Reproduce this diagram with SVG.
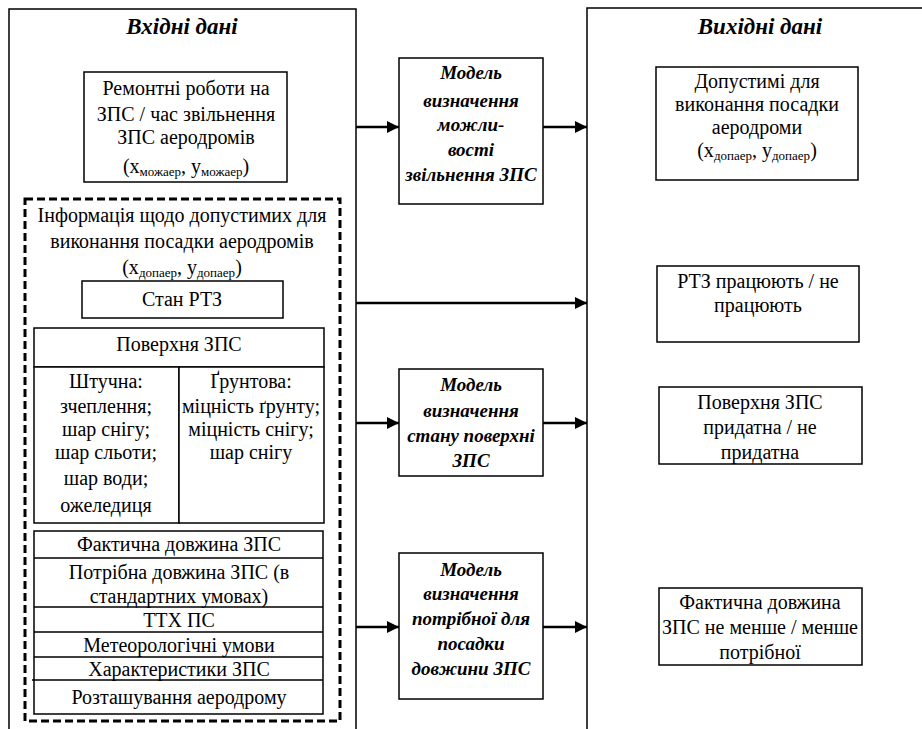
<svg xmlns="http://www.w3.org/2000/svg" width="922" height="729" viewBox="0 0 922 729">
  <style>
    .frame { fill: none; stroke: #000; stroke-width: 1.5; }
    .box { fill: #fff; stroke: #000; stroke-width: 1.5; }
    .dash { fill: none; stroke: #000; stroke-width: 3; stroke-dasharray: 8 4; }
    .arrow { fill: none; stroke: #000; stroke-width: 2.5; marker-end: url(#head); }
  </style>
  <defs>
    <marker id="head" viewBox="0 0 12 12" refX="12" refY="6" markerWidth="12" markerHeight="12" markerUnits="userSpaceOnUse" orient="auto">
      <path d="M0,0 L12,6 L0,12 Z" fill="#000"/>
    </marker>
  </defs>
  <rect width="922" height="729" fill="#fff"/>

  <!-- input frame -->
  <g id="inputs">
    <path class="frame" d="M9,729 V9 H356 V729"/>
    <text font-family="Liberation Serif, serif" font-size="23" font-weight="bold" font-style="italic" text-anchor="middle" x="182" y="34">Вхідні дані</text>
  </g>

  <!-- output frame -->
  <g id="outputs">
    <path class="frame" d="M587,729 V8 H922"/>
    <text font-family="Liberation Serif, serif" font-size="23" font-weight="bold" font-style="italic" text-anchor="middle" x="760" y="34">Вихідні дані</text>
  </g>

  <g id="repair-works">
    <rect class="box" x="84" y="72" width="203" height="110"/>
    <text font-family="Liberation Serif, serif" font-size="20" text-anchor="middle" x="186" y="95">Ремонтні роботи на</text>
    <text font-family="Liberation Serif, serif" font-size="20" text-anchor="middle" x="186" y="121">ЗПС / час звільнення</text>
    <text font-family="Liberation Serif, serif" font-size="20" text-anchor="middle" x="186" y="144">ЗПС аеродромів</text>
    <text font-family="Liberation Serif, serif" font-size="20" text-anchor="middle" x="186" y="173">(x<tspan font-size="13" dy="3">можаер</tspan><tspan dy="-3">, y</tspan><tspan font-size="13" dy="3">можаер</tspan><tspan dy="-3">)</tspan></text>
  </g>

  <g id="landing-info">
    <rect class="dash" x="25" y="199" width="315" height="522"/>
    <text font-family="Liberation Serif, serif" font-size="20" text-anchor="middle" x="182" y="222">Інформація щодо допустимих для</text>
    <text font-family="Liberation Serif, serif" font-size="20" text-anchor="middle" x="182" y="248">виконання посадки аеродромів</text>
    <text font-family="Liberation Serif, serif" font-size="20" text-anchor="middle" x="182" y="274">(x<tspan font-size="13" dy="3">допаер</tspan><tspan dy="-3">, y</tspan><tspan font-size="13" dy="3">допаер</tspan><tspan dy="-3">)</tspan></text>
  </g>

  <g id="rtz-state">
    <rect class="box" x="82" y="281" width="201" height="37"/>
    <text font-family="Liberation Serif, serif" font-size="20" text-anchor="middle" x="182" y="306">Стан РТЗ</text>
  </g>

  <g id="surface">
    <rect class="box" x="34" y="328" width="290" height="39"/>
    <text font-family="Liberation Serif, serif" font-size="20" text-anchor="middle" x="179" y="351">Поверхня ЗПС</text>
    <rect class="box" x="34" y="367" width="145" height="156"/>
    <rect class="box" x="179" y="367" width="145" height="156"/>
    <text font-family="Liberation Serif, serif" font-size="20" text-anchor="middle" x="106" y="388">Штучна:</text>
    <text font-family="Liberation Serif, serif" font-size="20" text-anchor="middle" x="106" y="413">зчеплення;</text>
    <text font-family="Liberation Serif, serif" font-size="20" text-anchor="middle" x="106" y="436">шар снігу;</text>
    <text font-family="Liberation Serif, serif" font-size="20" text-anchor="middle" x="106" y="459">шар сльоти;</text>
    <text font-family="Liberation Serif, serif" font-size="20" text-anchor="middle" x="106" y="485">шар води;</text>
    <text font-family="Liberation Serif, serif" font-size="20" text-anchor="middle" x="106" y="512">ожеледиця</text>
    <text font-family="Liberation Serif, serif" font-size="20" text-anchor="middle" x="251" y="388">Ґрунтова:</text>
    <text font-family="Liberation Serif, serif" font-size="20" text-anchor="middle" x="251" y="413">міцність ґрунту;</text>
    <text font-family="Liberation Serif, serif" font-size="20" text-anchor="middle" x="251" y="436">міцність снігу;</text>
    <text font-family="Liberation Serif, serif" font-size="20" text-anchor="middle" x="251" y="459">шар снігу</text>
  </g>

  <g id="length-data">
    <rect class="box" x="34" y="531" width="289" height="183"/>
    <path class="frame" d="M34,558 H323 M34,607 H323 M34,632 H323 M34,657 H323 M32,680 H323"/>
    <text font-family="Liberation Serif, serif" font-size="20" text-anchor="middle" x="179" y="551">Фактична довжина ЗПС</text>
    <text font-family="Liberation Serif, serif" font-size="20" text-anchor="middle" x="179" y="579">Потрібна довжина ЗПС (в</text>
    <text font-family="Liberation Serif, serif" font-size="20" text-anchor="middle" x="179" y="603">стандартних умовах)</text>
    <text font-family="Liberation Serif, serif" font-size="20" text-anchor="middle" x="179" y="627">ТТХ ПС</text>
    <text font-family="Liberation Serif, serif" font-size="20" text-anchor="middle" x="179" y="652">Метеорологічні умови</text>
    <text font-family="Liberation Serif, serif" font-size="20" text-anchor="middle" x="179" y="676">Характеристики ЗПС</text>
    <text font-family="Liberation Serif, serif" font-size="20" text-anchor="middle" x="179" y="704">Розташування аеродрому</text>
  </g>

  <g id="model-release">
    <rect class="box" x="399" y="58" width="144" height="146"/>
    <text font-family="Liberation Serif, serif" font-size="19" font-weight="bold" font-style="italic" text-anchor="middle" x="471" y="79">Модель</text>
    <text font-family="Liberation Serif, serif" font-size="19" font-weight="bold" font-style="italic" text-anchor="middle" x="471" y="107">визначення</text>
    <text font-family="Liberation Serif, serif" font-size="19" font-weight="bold" font-style="italic" text-anchor="middle" x="471" y="131">можли-</text>
    <text font-family="Liberation Serif, serif" font-size="19" font-weight="bold" font-style="italic" text-anchor="middle" x="471" y="156">вості</text>
    <text font-family="Liberation Serif, serif" font-size="19" font-weight="bold" font-style="italic" text-anchor="middle" x="471" y="181">звільнення ЗПС</text>
  </g>

  <g id="model-surface">
    <rect class="box" x="399" y="369" width="144" height="107"/>
    <text font-family="Liberation Serif, serif" font-size="19" font-weight="bold" font-style="italic" text-anchor="middle" x="471" y="391">Модель</text>
    <text font-family="Liberation Serif, serif" font-size="19" font-weight="bold" font-style="italic" text-anchor="middle" x="471" y="417">визначення</text>
    <text font-family="Liberation Serif, serif" font-size="19" font-weight="bold" font-style="italic" text-anchor="middle" x="471" y="442">стану поверхні</text>
    <text font-family="Liberation Serif, serif" font-size="19" font-weight="bold" font-style="italic" text-anchor="middle" x="471" y="467">ЗПС</text>
  </g>

  <g id="model-length">
    <rect class="box" x="399" y="553" width="144" height="146"/>
    <text font-family="Liberation Serif, serif" font-size="19" font-weight="bold" font-style="italic" text-anchor="middle" x="471" y="576">Модель</text>
    <text font-family="Liberation Serif, serif" font-size="19" font-weight="bold" font-style="italic" text-anchor="middle" x="471" y="600">визначення</text>
    <text font-family="Liberation Serif, serif" font-size="19" font-weight="bold" font-style="italic" text-anchor="middle" x="471" y="625">потрібної для</text>
    <text font-family="Liberation Serif, serif" font-size="19" font-weight="bold" font-style="italic" text-anchor="middle" x="471" y="650">посадки</text>
    <text font-family="Liberation Serif, serif" font-size="19" font-weight="bold" font-style="italic" text-anchor="middle" x="471" y="675">довжини ЗПС</text>
  </g>

  <g id="out-airfields">
    <rect class="box" x="656" y="67" width="202" height="113"/>
    <text font-family="Liberation Serif, serif" font-size="20" text-anchor="middle" x="757" y="88">Допустимі для</text>
    <text font-family="Liberation Serif, serif" font-size="20" text-anchor="middle" x="757" y="111">виконання посадки</text>
    <text font-family="Liberation Serif, serif" font-size="20" text-anchor="middle" x="757" y="134">аеродроми</text>
    <text font-family="Liberation Serif, serif" font-size="20" text-anchor="middle" x="757" y="157">(x<tspan font-size="13" dy="3">допаер</tspan><tspan dy="-3">, y</tspan><tspan font-size="13" dy="3">допаер</tspan><tspan dy="-3">)</tspan></text>
  </g>

  <g id="out-rtz">
    <rect class="box" x="657" y="266" width="202" height="76"/>
    <text font-family="Liberation Serif, serif" font-size="20" text-anchor="middle" x="758" y="288">РТЗ працюють / не</text>
    <text font-family="Liberation Serif, serif" font-size="20" text-anchor="middle" x="758" y="312">працюють</text>
  </g>

  <g id="out-surface">
    <rect class="box" x="659" y="387" width="203" height="77"/>
    <text font-family="Liberation Serif, serif" font-size="20" text-anchor="middle" x="760" y="409">Поверхня ЗПС</text>
    <text font-family="Liberation Serif, serif" font-size="20" text-anchor="middle" x="760" y="434">придатна / не</text>
    <text font-family="Liberation Serif, serif" font-size="20" text-anchor="middle" x="760" y="459">придатна</text>
  </g>

  <g id="out-length">
    <rect class="box" x="659" y="588" width="203" height="77"/>
    <text font-family="Liberation Serif, serif" font-size="20" text-anchor="middle" x="760" y="609">Фактична довжина</text>
    <text font-family="Liberation Serif, serif" font-size="20" text-anchor="middle" x="760" y="634">ЗПС не менше / менше</text>
    <text font-family="Liberation Serif, serif" font-size="20" text-anchor="middle" x="760" y="659">потрібної</text>
  </g>

  <g id="connectors">
    <line class="arrow" x1="356" y1="127" x2="399" y2="127"/>
    <line class="arrow" x1="543" y1="127" x2="587" y2="127"/>
    <line class="arrow" x1="356" y1="303" x2="587" y2="303"/>
    <line class="arrow" x1="356" y1="423" x2="399" y2="423"/>
    <line class="arrow" x1="543" y1="423" x2="587" y2="423"/>
    <line class="arrow" x1="356" y1="627" x2="399" y2="627"/>
    <line class="arrow" x1="543" y1="627" x2="587" y2="627"/>
  </g>
</svg>
